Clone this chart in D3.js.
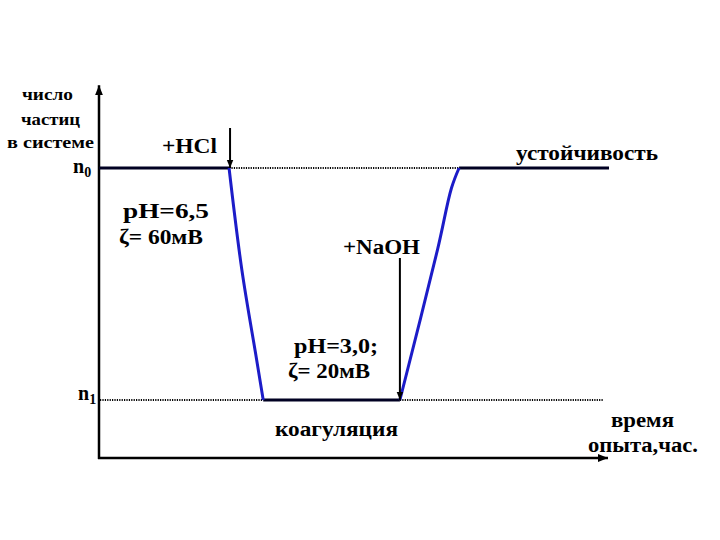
<!DOCTYPE html>
<html><head><meta charset="utf-8">
<script src="https://cdn.jsdelivr.net/npm/d3@7"></script>
<style>body{margin:0;background:#fff}svg{display:block}</style>
</head><body>
<svg id="c" width="720" height="540"></svg>
<script>
// time (arbitrary units) and relative particle number
const levels = {n0: 1.0, n1: 0.2};
const tHCl = 25.5, tCoagStart = 32.2, tNaOH = 59, tRecover = 70.6, tEnd = 100;
const dropCurve = [[25.5, 1.0], [28.0, 0.65], [30.9, 0.34], [32.2, 0.2]];
const riseCurve = [[59, 0.2], [66.4, 0.72], [69.1, 0.93], [70.6, 1.0]];

const svg = d3.select("#c");
const x = d3.scaleLinear().domain([0, 100]).range([99, 609]);
const y = d3.scaleLinear().domain([0, 1]).range([458, 168]);

const defs = svg.append("defs");
defs.append("marker").attr("id","ah").attr("viewBox","0 0 10 10").attr("refX",10).attr("refY",5)
  .attr("markerWidth",4).attr("markerHeight",4).attr("orient","auto-start-reverse")
  .append("path").attr("d","M0,1L10,5L0,9Z").attr("fill","#000");

// axes
svg.append("line").attr("x1",x(0)).attr("x2",x(0)).attr("y1",y(0)+1).attr("y2",y(1.285))
  .attr("stroke","#000").attr("stroke-width",2.5).attr("marker-end","url(#ah)");
svg.append("line").attr("x1",x(0)-1).attr("x2",x(99.8)).attr("y1",y(0)).attr("y2",y(0))
  .attr("stroke","#000").attr("stroke-width",2.5).attr("marker-end","url(#ah)");

function seg(t1,t2,v,dotted){
  const l = svg.append("line").attr("x1",x(t1)).attr("x2",x(t2)).attr("y1",y(v)).attr("y2",y(v))
   .attr("stroke", dotted ? "#000" : "#000022");
  if(dotted) l.attr("stroke-width",2).attr("stroke-dasharray","1.2,1.2");
  else l.attr("stroke-width",3);
}
seg(0, tHCl, levels.n0, false);
seg(tHCl, tRecover, levels.n0, true);
seg(tRecover, tEnd, levels.n0, false);
seg(0.2, tCoagStart, levels.n1, true);
seg(tCoagStart, tNaOH, levels.n1, false);
seg(tNaOH, 98.8, levels.n1, true);

const line = d3.line().x(d=>x(d[0])).y(d=>y(d[1])).curve(d3.curveCatmullRom.alpha(0.5));
[dropCurve, riseCurve].forEach(c=>{
  svg.append("path").attr("d", line(c)).attr("fill","none").attr("stroke","#1c1cc8")
    .attr("stroke-width",3).attr("stroke-linejoin","round");
});

// reagent arrows
svg.append("line").attr("x1",x(tHCl)+1).attr("x2",x(tHCl)+1).attr("y1",128).attr("y2",y(levels.n0))
  .attr("stroke","#000").attr("stroke-width",2).attr("marker-end","url(#ah)");
svg.append("line").attr("x1",x(tNaOH)).attr("x2",x(tNaOH)).attr("y1",258).attr("y2",y(levels.n1))
  .attr("stroke","#000").attr("stroke-width",2).attr("marker-end","url(#ah)");

const FONT = "'Liberation Serif', 'DejaVu Serif', 'Times New Roman', serif";
function txt(s,xx,yy,size,len){
  const t = svg.append("text").attr("x",xx).attr("y",yy).attr("font-size",size)
    .attr("font-family",FONT).attr("font-weight","bold").attr("fill","#000").text(s);
  if(len) t.attr("textLength",len).attr("lengthAdjust","spacingAndGlyphs");
  return t;
}
txt("число",22,100,17,51);
txt("частиц",21,125,17,59);
txt("в системе",7,148,17,87);
const n0 = txt("n",73,173,20); n0.append("tspan").attr("dy",4).attr("font-size",14).text("0");
const n1 = txt("n",78,400,20); n1.append("tspan").attr("dy",4).attr("font-size",14).text("1");
txt("+HCl",162,153,21,55);
txt("устойчивость",516,160,20,142);
txt("pH=6,5",123,218,20,86);
txt("ζ= 60мВ",119,244,20,84);
txt("+NaOH",343,254,20,77);
txt("pH=3,0;",294,353,20,84);
txt("ζ= 20мВ",288,378,20,82);
txt("коагуляция",275,436,20,123);
txt("время",611,427,20,63);
txt("опыта,час.",588,452,20,110);
</script>
</body></html>
